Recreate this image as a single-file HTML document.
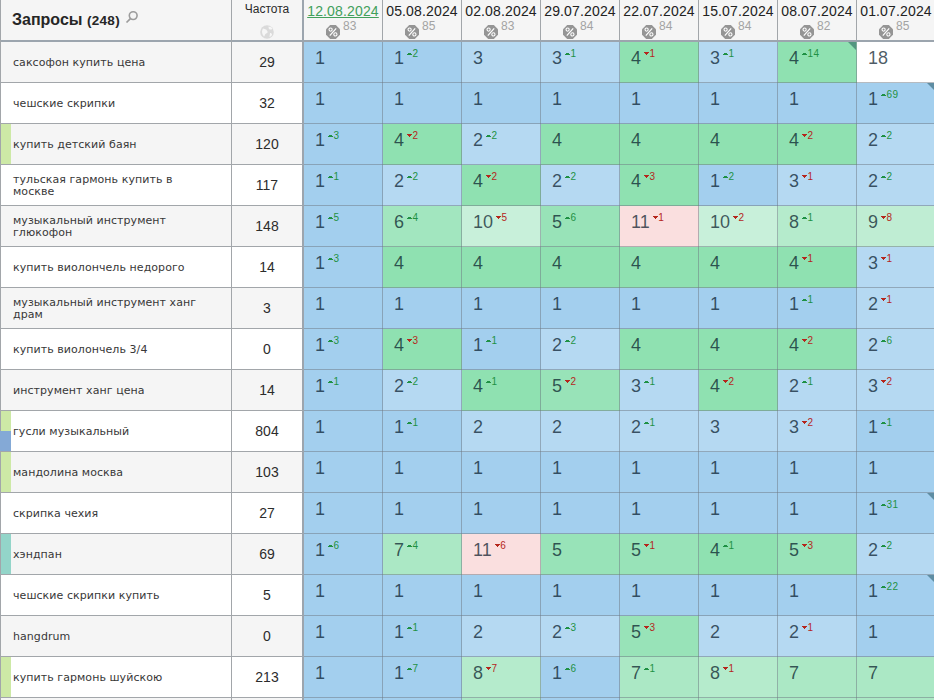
<!DOCTYPE html>
<html><head><meta charset="utf-8"><style>
*{margin:0;padding:0;box-sizing:border-box}
html,body{width:934px;height:700px;overflow:hidden;background:#fff}
body{position:relative;font-family:"Liberation Sans","DejaVu Sans",sans-serif}
.a{position:absolute}
.hd{background:#f5f5f5}
.lbl{position:absolute;left:13px;font-family:"DejaVu Sans","Liberation Sans",sans-serif;font-size:11px;line-height:12px;color:#383838;letter-spacing:.06px;white-space:nowrap}
.fq{position:absolute;left:232px;width:70px;text-align:center;font-size:14px;line-height:16px;color:#2c2c2c}
.c{position:absolute;width:79px;height:41px;overflow:hidden}
.n{position:absolute;left:11px;top:6px;font-size:18px;line-height:20px;color:rgba(0,18,36,.7);white-space:nowrap}
.s{display:inline-block;vertical-align:top;font-size:10px;line-height:10px;letter-spacing:.4px;position:relative;top:1px;margin-left:3px}
.up{color:#1f9144}.dn{color:#b5261c}
.tu,.td{display:inline-block;width:5px;vertical-align:top;margin-right:.5px;position:relative}
.tu{height:2px;top:4px;background:linear-gradient(to right,transparent 1px,#1f9144 1px,#1f9144 4px,transparent 4px) 0 0/5px 1px no-repeat,linear-gradient(#1f9144,#1f9144) 0 1px/5px 1px no-repeat}
.td{height:3px;top:3px;background:linear-gradient(#b5261c,#b5261c) 0 0/5px 1px no-repeat,linear-gradient(#b5261c,#b5261c) 1px 1px/3px 1px no-repeat,linear-gradient(#b5261c,#b5261c) 2px 2px/1px 1px no-repeat}
.cn{position:absolute;right:1px;top:0;width:0;height:0;border-top:8px solid rgba(0,50,60,.42);border-left:8px solid transparent}
.dt{position:absolute;top:3px;width:78px;text-align:center;font-size:14px;line-height:16px;color:#222;letter-spacing:.15px}
.dt.g{color:#42a05b;text-decoration:underline;text-underline-offset:1px}
.pc{position:absolute;width:14px;height:14px;top:25px;background:#959595;clip-path:polygon(30% 0,70% 0,100% 30%,100% 70%,70% 100%,30% 100%,0 70%,0 30%)}
.pn{position:absolute;top:19px;font-size:12px;line-height:14px;color:#a3a3a3}
</style></head><body>

<div class="a hd" style="left:0;top:0;width:934px;height:40px"></div>
<div class="a" style="left:0;top:40px;width:934px;height:2px;background:#9ca5ae"></div>
<div class="a" style="left:12px;top:10px;font-size:16px;line-height:20px;font-weight:bold;color:#262626;white-space:nowrap">Запросы <span style="font-size:13.5px;letter-spacing:.3px">(248)</span></div>
<svg class="a" style="left:125px;top:10px" width="14" height="14" viewBox="0 0 14 14"><circle cx="8.2" cy="5.6" r="3.9" fill="none" stroke="#9c9c9c" stroke-width="1.6"/><line x1="5.4" y1="8.6" x2="1.5" y2="12.5" stroke="#9c9c9c" stroke-width="1.7"/></svg>
<div class="a" style="left:232px;top:2px;width:70px;text-align:center;font-size:12px;line-height:14px;color:#2a2a2a">Частота</div>
<svg class="a" style="left:260px;top:24.5px" width="14" height="14" viewBox="0 0 14 14"><circle cx="7" cy="7" r="6.8" fill="#dadada"/><path d="M3 3.5c1.5 0 2 1 3 1s.5 1.5 1.5 2-1 2-2 2.5-.5 2-1.5 2.5c-1-1-2-3-2-5 0-1 .5-2 1-3zM8.5 1.5c1 .5 2.5 0 3.5 1.5s-1 1.5-2 1.5-1.5-1-1.5-3zM10 8c1 0 2 .5 2 1.5s-1 2-2.5 2.5c0-1.5.5-2.5.5-4z" fill="#f6f6f6"/></svg>
<div class="dt g" style="left:304px">12.08.2024</div>
<div class="pc" style="left:326px"><svg width="14" height="14" viewBox="0 0 14 14" style="display:block"><circle cx="4.6" cy="4.6" r="1.6" fill="none" stroke="#fff" stroke-width="1.1"/><circle cx="9.4" cy="9.4" r="1.6" fill="none" stroke="#fff" stroke-width="1.1"/><line x1="10.2" y1="3.4" x2="3.8" y2="10.6" stroke="#fff" stroke-width="1.2"/></svg></div>
<div class="pn" style="left:343px">83</div>
<div class="dt" style="left:383px">05.08.2024</div>
<div class="pc" style="left:405px"><svg width="14" height="14" viewBox="0 0 14 14" style="display:block"><circle cx="4.6" cy="4.6" r="1.6" fill="none" stroke="#fff" stroke-width="1.1"/><circle cx="9.4" cy="9.4" r="1.6" fill="none" stroke="#fff" stroke-width="1.1"/><line x1="10.2" y1="3.4" x2="3.8" y2="10.6" stroke="#fff" stroke-width="1.2"/></svg></div>
<div class="pn" style="left:422px">85</div>
<div class="dt" style="left:462px">02.08.2024</div>
<div class="pc" style="left:484px"><svg width="14" height="14" viewBox="0 0 14 14" style="display:block"><circle cx="4.6" cy="4.6" r="1.6" fill="none" stroke="#fff" stroke-width="1.1"/><circle cx="9.4" cy="9.4" r="1.6" fill="none" stroke="#fff" stroke-width="1.1"/><line x1="10.2" y1="3.4" x2="3.8" y2="10.6" stroke="#fff" stroke-width="1.2"/></svg></div>
<div class="pn" style="left:501px">83</div>
<div class="dt" style="left:541px">29.07.2024</div>
<div class="pc" style="left:563px"><svg width="14" height="14" viewBox="0 0 14 14" style="display:block"><circle cx="4.6" cy="4.6" r="1.6" fill="none" stroke="#fff" stroke-width="1.1"/><circle cx="9.4" cy="9.4" r="1.6" fill="none" stroke="#fff" stroke-width="1.1"/><line x1="10.2" y1="3.4" x2="3.8" y2="10.6" stroke="#fff" stroke-width="1.2"/></svg></div>
<div class="pn" style="left:580px">84</div>
<div class="dt" style="left:620px">22.07.2024</div>
<div class="pc" style="left:642px"><svg width="14" height="14" viewBox="0 0 14 14" style="display:block"><circle cx="4.6" cy="4.6" r="1.6" fill="none" stroke="#fff" stroke-width="1.1"/><circle cx="9.4" cy="9.4" r="1.6" fill="none" stroke="#fff" stroke-width="1.1"/><line x1="10.2" y1="3.4" x2="3.8" y2="10.6" stroke="#fff" stroke-width="1.2"/></svg></div>
<div class="pn" style="left:659px">84</div>
<div class="dt" style="left:699px">15.07.2024</div>
<div class="pc" style="left:721px"><svg width="14" height="14" viewBox="0 0 14 14" style="display:block"><circle cx="4.6" cy="4.6" r="1.6" fill="none" stroke="#fff" stroke-width="1.1"/><circle cx="9.4" cy="9.4" r="1.6" fill="none" stroke="#fff" stroke-width="1.1"/><line x1="10.2" y1="3.4" x2="3.8" y2="10.6" stroke="#fff" stroke-width="1.2"/></svg></div>
<div class="pn" style="left:738px">84</div>
<div class="dt" style="left:778px">08.07.2024</div>
<div class="pc" style="left:800px"><svg width="14" height="14" viewBox="0 0 14 14" style="display:block"><circle cx="4.6" cy="4.6" r="1.6" fill="none" stroke="#fff" stroke-width="1.1"/><circle cx="9.4" cy="9.4" r="1.6" fill="none" stroke="#fff" stroke-width="1.1"/><line x1="10.2" y1="3.4" x2="3.8" y2="10.6" stroke="#fff" stroke-width="1.2"/></svg></div>
<div class="pn" style="left:817px">82</div>
<div class="dt" style="left:857px">01.07.2024</div>
<div class="pc" style="left:879px"><svg width="14" height="14" viewBox="0 0 14 14" style="display:block"><circle cx="4.6" cy="4.6" r="1.6" fill="none" stroke="#fff" stroke-width="1.1"/><circle cx="9.4" cy="9.4" r="1.6" fill="none" stroke="#fff" stroke-width="1.1"/><line x1="10.2" y1="3.4" x2="3.8" y2="10.6" stroke="#fff" stroke-width="1.2"/></svg></div>
<div class="pn" style="left:896px">85</div>
<div class="a" style="left:0;top:0;width:1px;height:700px;background:#a2a6aa"></div>
<div class="a" style="left:231px;top:0;width:1px;height:700px;background:#a2a6aa"></div>
<div class="a" style="left:302px;top:0;width:2px;height:700px;background:#9ca5ae"></div>
<div class="a" style="left:382px;top:0;width:1px;height:40px;background:#a2a6aa"></div>
<div class="a" style="left:461px;top:0;width:1px;height:40px;background:#a2a6aa"></div>
<div class="a" style="left:540px;top:0;width:1px;height:40px;background:#a2a6aa"></div>
<div class="a" style="left:619px;top:0;width:1px;height:40px;background:#a2a6aa"></div>
<div class="a" style="left:698px;top:0;width:1px;height:40px;background:#a2a6aa"></div>
<div class="a" style="left:777px;top:0;width:1px;height:40px;background:#a2a6aa"></div>
<div class="a" style="left:856px;top:0;width:1px;height:40px;background:#a2a6aa"></div>
<div class="a" style="left:1px;top:42px;width:230px;height:40px;background:#f5f5f5"></div>
<div class="a" style="left:232px;top:42px;width:70px;height:40px;background:#f5f5f5"></div>
<div class="lbl" style="top:57px">саксофон купить цена</div>
<div class="fq" style="top:54px">29</div>
<div class="a" style="left:0;top:82px;width:302px;height:1px;background:#a2a6aa"></div>
<div class="c" style="left:304px;top:42px;background:#a3cfee"><div class="n">1</div></div>
<div class="c" style="left:383px;top:42px;background:#a3cfee"><div class="n">1<span class="s up"><i class="tu"></i>2</span></div></div>
<div class="c" style="left:462px;top:42px;background:#b5d9f2"><div class="n">3</div></div>
<div class="c" style="left:541px;top:42px;background:#b5d9f2"><div class="n">3<span class="s up"><i class="tu"></i>1</span></div></div>
<div class="c" style="left:620px;top:42px;background:#8fe1b1"><div class="n">4<span class="s dn"><i class="td"></i>1</span></div></div>
<div class="c" style="left:699px;top:42px;background:#b5d9f2"><div class="n">3<span class="s up"><i class="tu"></i>1</span></div></div>
<div class="c" style="left:778px;top:42px;background:#8fe1b1"><div class="n">4<span class="s up"><i class="tu"></i>14</span></div><i class="cn"></i></div>
<div class="c" style="left:857px;top:42px;background:#ffffff"><div class="n">18</div></div>
<div class="a" style="left:1px;top:83px;width:230px;height:40px;background:#ffffff"></div>
<div class="a" style="left:232px;top:83px;width:70px;height:40px;background:#ffffff"></div>
<div class="lbl" style="top:98px">чешские скрипки</div>
<div class="fq" style="top:95px">32</div>
<div class="a" style="left:0;top:123px;width:302px;height:1px;background:#a2a6aa"></div>
<div class="c" style="left:304px;top:83px;background:#a3cfee"><div class="n">1</div></div>
<div class="c" style="left:383px;top:83px;background:#a3cfee"><div class="n">1</div></div>
<div class="c" style="left:462px;top:83px;background:#a3cfee"><div class="n">1</div></div>
<div class="c" style="left:541px;top:83px;background:#a3cfee"><div class="n">1</div></div>
<div class="c" style="left:620px;top:83px;background:#a3cfee"><div class="n">1</div></div>
<div class="c" style="left:699px;top:83px;background:#a3cfee"><div class="n">1</div></div>
<div class="c" style="left:778px;top:83px;background:#a3cfee"><div class="n">1</div></div>
<div class="c" style="left:857px;top:83px;background:#a3cfee"><div class="n">1<span class="s up"><i class="tu"></i>69</span></div><i class="cn"></i></div>
<div class="a" style="left:1px;top:124px;width:230px;height:40px;background:#f5f5f5"></div>
<div class="a" style="left:232px;top:124px;width:70px;height:40px;background:#f5f5f5"></div>
<div class="a" style="left:1px;top:124px;width:10px;height:40px;background:#cde9a6"></div>
<div class="lbl" style="top:139px">купить детский баян</div>
<div class="fq" style="top:136px">120</div>
<div class="a" style="left:0;top:164px;width:302px;height:1px;background:#a2a6aa"></div>
<div class="c" style="left:304px;top:124px;background:#a3cfee"><div class="n">1<span class="s up"><i class="tu"></i>3</span></div></div>
<div class="c" style="left:383px;top:124px;background:#8fe1b1"><div class="n">4<span class="s dn"><i class="td"></i>2</span></div></div>
<div class="c" style="left:462px;top:124px;background:#b5d9f2"><div class="n">2<span class="s up"><i class="tu"></i>2</span></div></div>
<div class="c" style="left:541px;top:124px;background:#8fe1b1"><div class="n">4</div></div>
<div class="c" style="left:620px;top:124px;background:#8fe1b1"><div class="n">4</div></div>
<div class="c" style="left:699px;top:124px;background:#8fe1b1"><div class="n">4</div></div>
<div class="c" style="left:778px;top:124px;background:#8fe1b1"><div class="n">4<span class="s dn"><i class="td"></i>2</span></div></div>
<div class="c" style="left:857px;top:124px;background:#b5d9f2"><div class="n">2<span class="s up"><i class="tu"></i>2</span></div></div>
<div class="a" style="left:1px;top:165px;width:230px;height:40px;background:#ffffff"></div>
<div class="a" style="left:232px;top:165px;width:70px;height:40px;background:#ffffff"></div>
<div class="lbl" style="top:174px">тульская гармонь купить в<br>москве</div>
<div class="fq" style="top:177px">117</div>
<div class="a" style="left:0;top:205px;width:302px;height:1px;background:#a2a6aa"></div>
<div class="c" style="left:304px;top:165px;background:#a3cfee"><div class="n">1<span class="s up"><i class="tu"></i>1</span></div></div>
<div class="c" style="left:383px;top:165px;background:#b5d9f2"><div class="n">2<span class="s up"><i class="tu"></i>2</span></div></div>
<div class="c" style="left:462px;top:165px;background:#8fe1b1"><div class="n">4<span class="s dn"><i class="td"></i>2</span></div></div>
<div class="c" style="left:541px;top:165px;background:#b5d9f2"><div class="n">2<span class="s up"><i class="tu"></i>2</span></div></div>
<div class="c" style="left:620px;top:165px;background:#8fe1b1"><div class="n">4<span class="s dn"><i class="td"></i>3</span></div></div>
<div class="c" style="left:699px;top:165px;background:#a3cfee"><div class="n">1<span class="s up"><i class="tu"></i>2</span></div></div>
<div class="c" style="left:778px;top:165px;background:#b5d9f2"><div class="n">3<span class="s dn"><i class="td"></i>1</span></div></div>
<div class="c" style="left:857px;top:165px;background:#b5d9f2"><div class="n">2<span class="s up"><i class="tu"></i>2</span></div></div>
<div class="a" style="left:1px;top:206px;width:230px;height:40px;background:#f5f5f5"></div>
<div class="a" style="left:232px;top:206px;width:70px;height:40px;background:#f5f5f5"></div>
<div class="lbl" style="top:215px">музыкальный инструмент<br>глюкофон</div>
<div class="fq" style="top:218px">148</div>
<div class="a" style="left:0;top:246px;width:302px;height:1px;background:#a2a6aa"></div>
<div class="c" style="left:304px;top:206px;background:#a3cfee"><div class="n">1<span class="s up"><i class="tu"></i>5</span></div></div>
<div class="c" style="left:383px;top:206px;background:#a2e6bf"><div class="n">6<span class="s up"><i class="tu"></i>4</span></div></div>
<div class="c" style="left:462px;top:206px;background:#c8f0da"><div class="n">10<span class="s dn"><i class="td"></i>5</span></div></div>
<div class="c" style="left:541px;top:206px;background:#98e3b8"><div class="n">5<span class="s up"><i class="tu"></i>6</span></div></div>
<div class="c" style="left:620px;top:206px;background:#fadfdf"><div class="n">11<span class="s dn"><i class="td"></i>1</span></div></div>
<div class="c" style="left:699px;top:206px;background:#c8f0da"><div class="n">10<span class="s dn"><i class="td"></i>2</span></div></div>
<div class="c" style="left:778px;top:206px;background:#b5ebcc"><div class="n">8<span class="s up"><i class="tu"></i>1</span></div></div>
<div class="c" style="left:857px;top:206px;background:#bfedd3"><div class="n">9<span class="s dn"><i class="td"></i>8</span></div></div>
<div class="a" style="left:1px;top:247px;width:230px;height:40px;background:#ffffff"></div>
<div class="a" style="left:232px;top:247px;width:70px;height:40px;background:#ffffff"></div>
<div class="lbl" style="top:262px">купить виолончель недорого</div>
<div class="fq" style="top:259px">14</div>
<div class="a" style="left:0;top:287px;width:302px;height:1px;background:#a2a6aa"></div>
<div class="c" style="left:304px;top:247px;background:#a3cfee"><div class="n">1<span class="s up"><i class="tu"></i>3</span></div></div>
<div class="c" style="left:383px;top:247px;background:#8fe1b1"><div class="n">4</div></div>
<div class="c" style="left:462px;top:247px;background:#8fe1b1"><div class="n">4</div></div>
<div class="c" style="left:541px;top:247px;background:#8fe1b1"><div class="n">4</div></div>
<div class="c" style="left:620px;top:247px;background:#8fe1b1"><div class="n">4</div></div>
<div class="c" style="left:699px;top:247px;background:#8fe1b1"><div class="n">4</div></div>
<div class="c" style="left:778px;top:247px;background:#8fe1b1"><div class="n">4<span class="s dn"><i class="td"></i>1</span></div></div>
<div class="c" style="left:857px;top:247px;background:#b5d9f2"><div class="n">3<span class="s dn"><i class="td"></i>1</span></div></div>
<div class="a" style="left:1px;top:288px;width:230px;height:40px;background:#f5f5f5"></div>
<div class="a" style="left:232px;top:288px;width:70px;height:40px;background:#f5f5f5"></div>
<div class="lbl" style="top:297px">музыкальный инструмент ханг<br>драм</div>
<div class="fq" style="top:300px">3</div>
<div class="a" style="left:0;top:328px;width:302px;height:1px;background:#a2a6aa"></div>
<div class="c" style="left:304px;top:288px;background:#a3cfee"><div class="n">1</div></div>
<div class="c" style="left:383px;top:288px;background:#a3cfee"><div class="n">1</div></div>
<div class="c" style="left:462px;top:288px;background:#a3cfee"><div class="n">1</div></div>
<div class="c" style="left:541px;top:288px;background:#a3cfee"><div class="n">1</div></div>
<div class="c" style="left:620px;top:288px;background:#a3cfee"><div class="n">1</div></div>
<div class="c" style="left:699px;top:288px;background:#a3cfee"><div class="n">1</div></div>
<div class="c" style="left:778px;top:288px;background:#a3cfee"><div class="n">1<span class="s up"><i class="tu"></i>1</span></div></div>
<div class="c" style="left:857px;top:288px;background:#b5d9f2"><div class="n">2<span class="s dn"><i class="td"></i>1</span></div></div>
<div class="a" style="left:1px;top:329px;width:230px;height:40px;background:#ffffff"></div>
<div class="a" style="left:232px;top:329px;width:70px;height:40px;background:#ffffff"></div>
<div class="lbl" style="top:344px">купить виолончель 3/4</div>
<div class="fq" style="top:341px">0</div>
<div class="a" style="left:0;top:369px;width:302px;height:1px;background:#a2a6aa"></div>
<div class="c" style="left:304px;top:329px;background:#a3cfee"><div class="n">1<span class="s up"><i class="tu"></i>3</span></div></div>
<div class="c" style="left:383px;top:329px;background:#8fe1b1"><div class="n">4<span class="s dn"><i class="td"></i>3</span></div></div>
<div class="c" style="left:462px;top:329px;background:#a3cfee"><div class="n">1<span class="s up"><i class="tu"></i>1</span></div></div>
<div class="c" style="left:541px;top:329px;background:#b5d9f2"><div class="n">2<span class="s up"><i class="tu"></i>2</span></div></div>
<div class="c" style="left:620px;top:329px;background:#8fe1b1"><div class="n">4</div></div>
<div class="c" style="left:699px;top:329px;background:#8fe1b1"><div class="n">4</div></div>
<div class="c" style="left:778px;top:329px;background:#8fe1b1"><div class="n">4<span class="s dn"><i class="td"></i>2</span></div></div>
<div class="c" style="left:857px;top:329px;background:#b5d9f2"><div class="n">2<span class="s up"><i class="tu"></i>6</span></div></div>
<div class="a" style="left:1px;top:370px;width:230px;height:40px;background:#f5f5f5"></div>
<div class="a" style="left:232px;top:370px;width:70px;height:40px;background:#f5f5f5"></div>
<div class="lbl" style="top:385px">инструмент ханг цена</div>
<div class="fq" style="top:382px">14</div>
<div class="a" style="left:0;top:410px;width:302px;height:1px;background:#a2a6aa"></div>
<div class="c" style="left:304px;top:370px;background:#a3cfee"><div class="n">1<span class="s up"><i class="tu"></i>1</span></div></div>
<div class="c" style="left:383px;top:370px;background:#b5d9f2"><div class="n">2<span class="s up"><i class="tu"></i>2</span></div></div>
<div class="c" style="left:462px;top:370px;background:#8fe1b1"><div class="n">4<span class="s up"><i class="tu"></i>1</span></div></div>
<div class="c" style="left:541px;top:370px;background:#98e3b8"><div class="n">5<span class="s dn"><i class="td"></i>2</span></div></div>
<div class="c" style="left:620px;top:370px;background:#b5d9f2"><div class="n">3<span class="s up"><i class="tu"></i>1</span></div></div>
<div class="c" style="left:699px;top:370px;background:#8fe1b1"><div class="n">4<span class="s dn"><i class="td"></i>2</span></div></div>
<div class="c" style="left:778px;top:370px;background:#b5d9f2"><div class="n">2<span class="s up"><i class="tu"></i>1</span></div></div>
<div class="c" style="left:857px;top:370px;background:#b5d9f2"><div class="n">3<span class="s dn"><i class="td"></i>2</span></div></div>
<div class="a" style="left:1px;top:411px;width:230px;height:40px;background:#ffffff"></div>
<div class="a" style="left:232px;top:411px;width:70px;height:40px;background:#ffffff"></div>
<div class="a" style="left:1px;top:411px;width:10px;height:20px;background:#cde9a6"></div>
<div class="a" style="left:0;top:431px;width:11px;height:20px;background:#84a9d6"></div>
<div class="lbl" style="top:426px">гусли музыкальный</div>
<div class="fq" style="top:423px">804</div>
<div class="a" style="left:0;top:451px;width:302px;height:1px;background:#a2a6aa"></div>
<div class="c" style="left:304px;top:411px;background:#a3cfee"><div class="n">1</div></div>
<div class="c" style="left:383px;top:411px;background:#a3cfee"><div class="n">1<span class="s up"><i class="tu"></i>1</span></div></div>
<div class="c" style="left:462px;top:411px;background:#b5d9f2"><div class="n">2</div></div>
<div class="c" style="left:541px;top:411px;background:#b5d9f2"><div class="n">2</div></div>
<div class="c" style="left:620px;top:411px;background:#b5d9f2"><div class="n">2<span class="s up"><i class="tu"></i>1</span></div></div>
<div class="c" style="left:699px;top:411px;background:#b5d9f2"><div class="n">3</div></div>
<div class="c" style="left:778px;top:411px;background:#b5d9f2"><div class="n">3<span class="s dn"><i class="td"></i>2</span></div></div>
<div class="c" style="left:857px;top:411px;background:#a3cfee"><div class="n">1<span class="s up"><i class="tu"></i>1</span></div></div>
<div class="a" style="left:1px;top:452px;width:230px;height:40px;background:#f5f5f5"></div>
<div class="a" style="left:232px;top:452px;width:70px;height:40px;background:#f5f5f5"></div>
<div class="a" style="left:1px;top:452px;width:10px;height:40px;background:#cde9a6"></div>
<div class="lbl" style="top:467px">мандолина москва</div>
<div class="fq" style="top:464px">103</div>
<div class="a" style="left:0;top:492px;width:302px;height:1px;background:#a2a6aa"></div>
<div class="c" style="left:304px;top:452px;background:#a3cfee"><div class="n">1</div></div>
<div class="c" style="left:383px;top:452px;background:#a3cfee"><div class="n">1</div></div>
<div class="c" style="left:462px;top:452px;background:#a3cfee"><div class="n">1</div></div>
<div class="c" style="left:541px;top:452px;background:#a3cfee"><div class="n">1</div></div>
<div class="c" style="left:620px;top:452px;background:#a3cfee"><div class="n">1</div></div>
<div class="c" style="left:699px;top:452px;background:#a3cfee"><div class="n">1</div></div>
<div class="c" style="left:778px;top:452px;background:#a3cfee"><div class="n">1</div></div>
<div class="c" style="left:857px;top:452px;background:#a3cfee"><div class="n">1</div></div>
<div class="a" style="left:1px;top:493px;width:230px;height:40px;background:#ffffff"></div>
<div class="a" style="left:232px;top:493px;width:70px;height:40px;background:#ffffff"></div>
<div class="lbl" style="top:508px">скрипка чехия</div>
<div class="fq" style="top:505px">27</div>
<div class="a" style="left:0;top:533px;width:302px;height:1px;background:#a2a6aa"></div>
<div class="c" style="left:304px;top:493px;background:#a3cfee"><div class="n">1</div></div>
<div class="c" style="left:383px;top:493px;background:#a3cfee"><div class="n">1</div></div>
<div class="c" style="left:462px;top:493px;background:#a3cfee"><div class="n">1</div></div>
<div class="c" style="left:541px;top:493px;background:#a3cfee"><div class="n">1</div></div>
<div class="c" style="left:620px;top:493px;background:#a3cfee"><div class="n">1</div></div>
<div class="c" style="left:699px;top:493px;background:#a3cfee"><div class="n">1</div></div>
<div class="c" style="left:778px;top:493px;background:#a3cfee"><div class="n">1</div></div>
<div class="c" style="left:857px;top:493px;background:#a3cfee"><div class="n">1<span class="s up"><i class="tu"></i>31</span></div><i class="cn"></i></div>
<div class="a" style="left:1px;top:534px;width:230px;height:40px;background:#f5f5f5"></div>
<div class="a" style="left:232px;top:534px;width:70px;height:40px;background:#f5f5f5"></div>
<div class="a" style="left:1px;top:534px;width:10px;height:40px;background:#93d5c9"></div>
<div class="lbl" style="top:549px">хэндпан</div>
<div class="fq" style="top:546px">69</div>
<div class="a" style="left:0;top:574px;width:302px;height:1px;background:#a2a6aa"></div>
<div class="c" style="left:304px;top:534px;background:#a3cfee"><div class="n">1<span class="s up"><i class="tu"></i>6</span></div></div>
<div class="c" style="left:383px;top:534px;background:#abe8c5"><div class="n">7<span class="s up"><i class="tu"></i>4</span></div></div>
<div class="c" style="left:462px;top:534px;background:#fadfdf"><div class="n">11<span class="s dn"><i class="td"></i>6</span></div></div>
<div class="c" style="left:541px;top:534px;background:#98e3b8"><div class="n">5</div></div>
<div class="c" style="left:620px;top:534px;background:#98e3b8"><div class="n">5<span class="s dn"><i class="td"></i>1</span></div></div>
<div class="c" style="left:699px;top:534px;background:#8fe1b1"><div class="n">4<span class="s up"><i class="tu"></i>1</span></div></div>
<div class="c" style="left:778px;top:534px;background:#98e3b8"><div class="n">5<span class="s dn"><i class="td"></i>3</span></div></div>
<div class="c" style="left:857px;top:534px;background:#b5d9f2"><div class="n">2<span class="s up"><i class="tu"></i>2</span></div></div>
<div class="a" style="left:1px;top:575px;width:230px;height:40px;background:#ffffff"></div>
<div class="a" style="left:232px;top:575px;width:70px;height:40px;background:#ffffff"></div>
<div class="lbl" style="top:590px">чешские скрипки купить</div>
<div class="fq" style="top:587px">5</div>
<div class="a" style="left:0;top:615px;width:302px;height:1px;background:#a2a6aa"></div>
<div class="c" style="left:304px;top:575px;background:#a3cfee"><div class="n">1</div></div>
<div class="c" style="left:383px;top:575px;background:#a3cfee"><div class="n">1</div></div>
<div class="c" style="left:462px;top:575px;background:#a3cfee"><div class="n">1</div></div>
<div class="c" style="left:541px;top:575px;background:#a3cfee"><div class="n">1</div></div>
<div class="c" style="left:620px;top:575px;background:#a3cfee"><div class="n">1</div></div>
<div class="c" style="left:699px;top:575px;background:#a3cfee"><div class="n">1</div></div>
<div class="c" style="left:778px;top:575px;background:#a3cfee"><div class="n">1</div></div>
<div class="c" style="left:857px;top:575px;background:#a3cfee"><div class="n">1<span class="s up"><i class="tu"></i>22</span></div><i class="cn"></i></div>
<div class="a" style="left:1px;top:616px;width:230px;height:40px;background:#f5f5f5"></div>
<div class="a" style="left:232px;top:616px;width:70px;height:40px;background:#f5f5f5"></div>
<div class="lbl" style="top:631px">hangdrum</div>
<div class="fq" style="top:628px">0</div>
<div class="a" style="left:0;top:656px;width:302px;height:1px;background:#a2a6aa"></div>
<div class="c" style="left:304px;top:616px;background:#a3cfee"><div class="n">1</div></div>
<div class="c" style="left:383px;top:616px;background:#a3cfee"><div class="n">1<span class="s up"><i class="tu"></i>1</span></div></div>
<div class="c" style="left:462px;top:616px;background:#b5d9f2"><div class="n">2</div></div>
<div class="c" style="left:541px;top:616px;background:#b5d9f2"><div class="n">2<span class="s up"><i class="tu"></i>3</span></div></div>
<div class="c" style="left:620px;top:616px;background:#98e3b8"><div class="n">5<span class="s dn"><i class="td"></i>3</span></div></div>
<div class="c" style="left:699px;top:616px;background:#b5d9f2"><div class="n">2</div></div>
<div class="c" style="left:778px;top:616px;background:#b5d9f2"><div class="n">2<span class="s dn"><i class="td"></i>1</span></div></div>
<div class="c" style="left:857px;top:616px;background:#a3cfee"><div class="n">1</div></div>
<div class="a" style="left:1px;top:657px;width:230px;height:40px;background:#ffffff"></div>
<div class="a" style="left:232px;top:657px;width:70px;height:40px;background:#ffffff"></div>
<div class="a" style="left:1px;top:657px;width:10px;height:40px;background:#cde9a6"></div>
<div class="lbl" style="top:672px">купить гармонь шуйскою</div>
<div class="fq" style="top:669px">213</div>
<div class="a" style="left:0;top:697px;width:302px;height:1px;background:#a2a6aa"></div>
<div class="c" style="left:304px;top:657px;background:#a3cfee"><div class="n">1</div></div>
<div class="c" style="left:383px;top:657px;background:#a3cfee"><div class="n">1<span class="s up"><i class="tu"></i>7</span></div></div>
<div class="c" style="left:462px;top:657px;background:#b5ebcc"><div class="n">8<span class="s dn"><i class="td"></i>7</span></div></div>
<div class="c" style="left:541px;top:657px;background:#a3cfee"><div class="n">1<span class="s up"><i class="tu"></i>6</span></div></div>
<div class="c" style="left:620px;top:657px;background:#abe8c5"><div class="n">7<span class="s up"><i class="tu"></i>1</span></div></div>
<div class="c" style="left:699px;top:657px;background:#b5ebcc"><div class="n">8<span class="s dn"><i class="td"></i>1</span></div></div>
<div class="c" style="left:778px;top:657px;background:#abe8c5"><div class="n">7</div></div>
<div class="c" style="left:857px;top:657px;background:#abe8c5"><div class="n">7</div></div>
<div class="a" style="left:1px;top:698px;width:230px;height:40px;background:#f5f5f5"></div>
<div class="a" style="left:232px;top:698px;width:70px;height:40px;background:#f5f5f5"></div>
<div class="a" style="left:0;top:738px;width:302px;height:1px;background:#a2a6aa"></div>
<div class="c" style="left:304px;top:698px;background:#a3cfee"><div class="n">1</div></div>
<div class="c" style="left:383px;top:698px;background:#a3cfee"><div class="n">1</div></div>
<div class="c" style="left:462px;top:698px;background:#abe8c5"><div class="n">7</div></div>
<div class="c" style="left:541px;top:698px;background:#a3cfee"><div class="n">1</div></div>
<div class="c" style="left:620px;top:698px;background:#abe8c5"><div class="n">7</div></div>
<div class="c" style="left:699px;top:698px;background:#abe8c5"><div class="n">7</div></div>
<div class="c" style="left:778px;top:698px;background:#abe8c5"><div class="n">7</div></div>
<div class="c" style="left:857px;top:698px;background:#abe8c5"><div class="n">7</div></div>
<div class="a" style="left:382px;top:42px;width:1px;height:658px;background:rgba(110,120,130,.5)"></div>
<div class="a" style="left:461px;top:42px;width:1px;height:658px;background:rgba(110,120,130,.5)"></div>
<div class="a" style="left:540px;top:42px;width:1px;height:658px;background:rgba(110,120,130,.5)"></div>
<div class="a" style="left:619px;top:42px;width:1px;height:658px;background:rgba(110,120,130,.5)"></div>
<div class="a" style="left:698px;top:42px;width:1px;height:658px;background:rgba(110,120,130,.5)"></div>
<div class="a" style="left:777px;top:42px;width:1px;height:658px;background:rgba(110,120,130,.5)"></div>
<div class="a" style="left:856px;top:42px;width:1px;height:658px;background:rgba(110,120,130,.5)"></div>
<div class="a" style="left:304px;top:82px;width:630px;height:1px;background:rgba(110,120,130,.5)"></div>
<div class="a" style="left:304px;top:123px;width:630px;height:1px;background:rgba(110,120,130,.5)"></div>
<div class="a" style="left:304px;top:164px;width:630px;height:1px;background:rgba(110,120,130,.5)"></div>
<div class="a" style="left:304px;top:205px;width:630px;height:1px;background:rgba(110,120,130,.5)"></div>
<div class="a" style="left:304px;top:246px;width:630px;height:1px;background:rgba(110,120,130,.5)"></div>
<div class="a" style="left:304px;top:287px;width:630px;height:1px;background:rgba(110,120,130,.5)"></div>
<div class="a" style="left:304px;top:328px;width:630px;height:1px;background:rgba(110,120,130,.5)"></div>
<div class="a" style="left:304px;top:369px;width:630px;height:1px;background:rgba(110,120,130,.5)"></div>
<div class="a" style="left:304px;top:410px;width:630px;height:1px;background:rgba(110,120,130,.5)"></div>
<div class="a" style="left:304px;top:451px;width:630px;height:1px;background:rgba(110,120,130,.5)"></div>
<div class="a" style="left:304px;top:492px;width:630px;height:1px;background:rgba(110,120,130,.5)"></div>
<div class="a" style="left:304px;top:533px;width:630px;height:1px;background:rgba(110,120,130,.5)"></div>
<div class="a" style="left:304px;top:574px;width:630px;height:1px;background:rgba(110,120,130,.5)"></div>
<div class="a" style="left:304px;top:615px;width:630px;height:1px;background:rgba(110,120,130,.5)"></div>
<div class="a" style="left:304px;top:656px;width:630px;height:1px;background:rgba(110,120,130,.5)"></div>
<div class="a" style="left:304px;top:697px;width:630px;height:1px;background:rgba(110,120,130,.5)"></div>
<div class="a" style="left:304px;top:738px;width:630px;height:1px;background:rgba(110,120,130,.5)"></div>
</body></html>
